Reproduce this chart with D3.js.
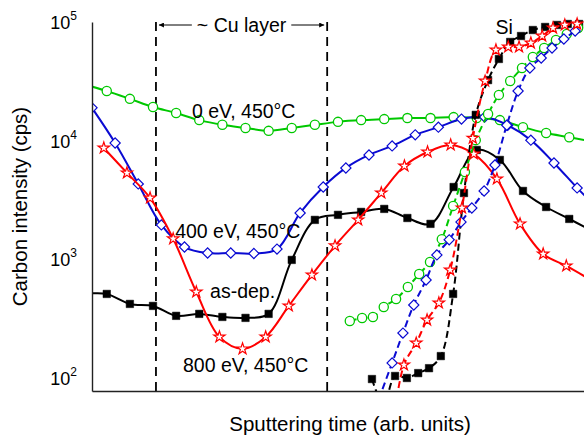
<!DOCTYPE html>
<html>
<head>
<meta charset="utf-8">
<script src="https://cdn.jsdelivr.net/npm/d3@7"></script>
<style>
  body { margin: 0; background: #fff; }
  text { font-family: Arial, "Liberation Sans", sans-serif; fill: #000; }
</style>
</head>
<body>
<svg id="chart" width="584" height="437"></svg>
<script>
// sputtering time in arb. units (0-100 across the visible axis)
// carbon intensity in cps

// solid: carbon profile through the sample
var greenX = [-0.6, 3.0, 7.7, 12.4, 17.1, 21.8, 26.5, 31.2, 35.9, 40.6, 45.3, 50.0, 54.7, 59.4, 64.1, 68.8, 73.5, 78.2, 82.9, 87.6, 92.3, 97.0, 100.6];
var greenC = [29000, 26200, 22500, 19200, 17100, 14900, 13600, 12800, 12100, 12800, 13600, 14400, 14900, 15200, 15500, 15500, 15800, 15500, 14900, 13000, 11600, 10700, 10000];

var blackX = [-0.6, 3.0, 7.7, 12.4, 17.1, 21.8, 26.5, 31.2, 35.9, 40.6, 45.3, 50.0, 54.7, 59.4, 64.1, 68.8, 73.5, 78.2, 82.9, 87.6, 92.3, 97.0, 100.6];
var blackC = [515, 511, 421, 405, 334, 347, 327, 321, 347, 989, 2150, 2370, 2510, 2660, 2230, 1990, 4070, 8350, 6880, 3770, 2760, 2190, 1830];

var blueX = [0, 4.7, 9.4, 14.1, 18.8, 23.5, 28.2, 32.9, 37.6, 42.3, 47.0, 51.6, 56.3, 61.0, 65.7, 70.4, 75.1, 79.8, 84.5, 89.2, 93.9, 98.6, 100.6];
var blueC = [18900, 9560, 4320, 1950, 1270, 1130, 1130, 1120, 1220, 2460, 4070, 5890, 7580, 9030, 11200, 13000, 15200, 15800, 13500, 10100, 6490, 4000, 3300];

var redX = [2.4, 7.1, 11.8, 16.5, 21.2, 25.9, 30.6, 35.3, 40.0, 44.7, 49.4, 54.1, 58.8, 63.5, 68.2, 72.9, 77.6, 82.3, 87.0, 91.7, 96.4, 100.6];
var redC = [8680, 5350, 3290, 1490, 531, 222, 176, 222, 405, 739, 1300, 2150, 3630, 6120, 8030, 9200, 7730, 4760, 1990, 1110, 880, 700];

// dashed: rise into the Si substrate
var greenSiX = [52.4, 54.9, 57.1, 59.3, 61.8, 64.2, 66.5, 68.7, 71.1, 73.4, 75.8, 78.0, 80.5, 82.7, 85.0, 87.4, 89.6, 91.9, 94.3, 96.5, 98.8];
var greenSiC = [302, 320, 327, 397, 463, 585, 752, 950, 1480, 2820, 5450, 10100, 16800, 24300, 31800, 41000, 50700, 60400, 70500, 79200, 89000];

var blueSiX = [57.5, 61.0, 63.2, 65.4, 67.9, 70.1, 72.6, 75.0, 77.2, 79.7, 81.9, 84.3, 86.6, 89.0, 91.3, 93.5, 95.9, 98.2];
var blueSiC = [54, 134, 239, 412, 670, 1090, 1460, 2060, 2710, 3770, 6240, 13500, 26200, 41000, 49700, 60400, 71900, 84000];

var redSiX = [61.6, 63.4, 65.9, 68.1, 70.5, 72.8, 75.2, 77.4, 79.9, 82.1, 84.6, 86.8, 89.2, 91.5, 93.7, 96.1, 98.6];
var redSiC = [54, 129, 197, 308, 429, 813, 2710, 10500, 31800, 58100, 61600, 61600, 66500, 76200, 89000, 94400, 96200];

var blackSiX = [56.9, 59.3, 61.6, 64.0, 66.3, 68.5, 70.9, 73.4, 75.6, 78.0, 80.5, 82.7, 85.0, 87.2, 89.6, 92.1, 94.5, 96.7, 99.0];
var blackSiC = [98, 60, 104, 100, 110, 121, 153, 511, 3620, 16500, 32400, 48800, 67900, 76200, 85600, 90800, 94400, 96200, 96200];

// Cu layer boundaries and tick values
var cuLayer = [13.0, 47.8];
var yTicks = [1e2, 1e3, 1e4, 1e5];

var labels = [
  { text: "0 eV, 450°C", x: 20.3, c: 15500 },
  { text: "400 eV, 450°C", x: 16.9, c: 1500 },
  { text: "as-dep.", x: 24.0, c: 470 },
  { text: "800 eV, 450°C", x: 18.5, c: 112 },
  { text: "Si", x: 82.0, c: 80000 }
];

var margin = { left: 92, top: 22, right: 0, bottom: 46 },
  W = 584, H = 437;

var svg = d3.select("#chart");

var x = d3.scaleLinear().domain([0, 100]).range([margin.left, W]);
// 10^2 sits 13px above the bottom axis line
var y = d3.scaleLog().domain([Math.pow(10, 2 - 13 / 118.67), 1e5]).range([H - margin.bottom, margin.top]);

svg.append("defs").append("clipPath")
  .attr("id", "clip")
  .append("rect")
  .attr("x", margin.left)
  .attr("y", 0)
  .attr("width", W - margin.left)
  .attr("height", H - margin.bottom);

var series = [
  { x: blackX, c: blackC, color: "#000", shape: "square", dash: null },
  { x: greenX, c: greenC, color: "#00c800", shape: "circle", dash: null },
  { x: blueX, c: blueC, color: "#0a0ad2", shape: "diamond", dash: null },
  { x: redX, c: redC, color: "#ff0000", shape: "star", dash: null },
  { x: blackSiX, c: blackSiC, color: "#000", shape: "square", dash: "7,4" },
  { x: greenSiX, c: greenSiC, color: "#00c800", shape: "circle", dash: "7,4" },
  { x: blueSiX, c: blueSiC, color: "#0a0ad2", shape: "diamond", dash: "7,4" },
  { x: redSiX, c: redSiC, color: "#ff0000", shape: "star", dash: "7,4" }
];

var line = d3.line()
  .curve(d3.curveCatmullRom.alpha(0.5))
  .x(function(d) { return x(d[0]); })
  .y(function(d) { return y(d[1]); });

var plot = svg.append("g").attr("clip-path", "url(#clip)");

// Cu layer boundaries
plot.selectAll(".cu")
  .data(cuLayer)
  .enter().append("line")
  .attr("x1", function(d) { return x(d); })
  .attr("x2", function(d) { return x(d); })
  .attr("y1", margin.top)
  .attr("y2", H - margin.bottom)
  .attr("stroke", "#000")
  .attr("stroke-width", 1.8)
  .attr("stroke-dasharray", "9,6");

series.forEach(function(s) {
  var pts = s.x.map(function(v, i) { return [v, s.c[i]]; });
  var g = plot.append("g");

  g.append("path")
    .datum(pts)
    .attr("fill", "none")
    .attr("stroke", s.color)
    .attr("stroke-width", 2)
    .attr("stroke-dasharray", s.dash)
    .attr("d", line);

  var marks = pts.filter(function(d) { return d[0] >= 0 && d[0] <= 100; });

  if (s.shape === "circle") {
    g.selectAll("circle").data(marks).enter().append("circle")
      .attr("cx", function(d) { return x(d[0]); })
      .attr("cy", function(d) { return y(d[1]); })
      .attr("r", 4.6)
      .attr("fill", "#fff")
      .attr("stroke", s.color)
      .attr("stroke-width", 1.3);
  } else {
    var sym = d3.symbol()
      .type(s.shape === "star" ? d3.symbolStar : d3.symbolSquare)
      .size(s.shape === "square" ? 56 : s.shape === "diamond" ? 52 : 40);
    g.selectAll(".m").data(marks).enter().append("path")
      .attr("d", sym)
      .attr("transform", function(d) {
        return "translate(" + x(d[0]) + "," + y(d[1]) + ")" + (s.shape === "diamond" ? " rotate(45)" : "");
      })
      .attr("fill", s.shape === "square" ? s.color : "#fff")
      .attr("stroke", s.color)
      .attr("stroke-width", s.shape === "square" ? 0.5 : 1.2);
  }
});

// axes
var yAxis = d3.axisLeft(y).tickValues(yTicks).tickSize(0).tickFormat("");
var xAxis = d3.axisBottom(x).tickValues([]).tickSize(0);

svg.append("g")
  .attr("transform", "translate(" + margin.left + ",0)")
  .call(yAxis)
  .call(function(g) { g.select(".domain").attr("stroke", "#222").attr("stroke-width", 1.4); });

svg.append("g")
  .attr("transform", "translate(0," + (H - margin.bottom) + ")")
  .call(xAxis)
  .call(function(g) { g.select(".domain").attr("stroke", "#222").attr("stroke-width", 1.4); });

// log tick labels 10^n
var tl = svg.selectAll(".tl")
  .data(yTicks)
  .enter().append("text")
  .attr("class", "tl")
  .attr("x", margin.left - 15)
  .attr("y", function(d) { return y(d) + 7; })
  .attr("text-anchor", "end")
  .style("font-size", "18px");
tl.append("tspan").text("10");
tl.append("tspan")
  .attr("dy", -9)
  .style("font-size", "12px")
  .text(function(d) { return Math.round(Math.log10(d)); });

// axis titles
svg.append("text")
  .attr("transform", "translate(27," + (y(1e5) + y.range()[0]) / 2 + ") rotate(-90)")
  .attr("text-anchor", "middle")
  .style("font-size", "20.5px")
  .text("Carbon intensity (cps)");

svg.append("text")
  .attr("x", 350)
  .attr("y", 431)
  .attr("text-anchor", "middle")
  .style("font-size", "20.5px")
  .text("Sputtering time (arb. units)");

// series labels
svg.selectAll(".lab")
  .data(labels)
  .enter().append("text")
  .attr("class", "lab")
  .attr("x", function(d) { return x(d.x); })
  .attr("y", function(d) { return y(d.c); })
  .style("font-size", "19.5px")
  .text(function(d) { return d.text; });

// ~ Cu layer arrow annotation
var cuMid = (x(cuLayer[0]) + x(cuLayer[1])) / 2, arrowY = 25;
var cuText = svg.append("text")
  .attr("x", cuMid)
  .attr("y", arrowY + 7)
  .attr("text-anchor", "middle")
  .style("font-size", "19.5px")
  .text("~ Cu layer");
var tw = cuText.node().getComputedTextLength();

svg.select("defs").append("marker")
  .attr("id", "arr")
  .attr("viewBox", "0 0 10 10")
  .attr("refX", 10)
  .attr("refY", 5)
  .attr("markerWidth", 7)
  .attr("markerHeight", 5)
  .attr("markerUnits", "userSpaceOnUse")
  .attr("orient", "auto")
  .append("path")
  .attr("d", "M0,0L10,5L0,10z")
  .attr("fill", "#000");

[[cuMid - tw / 2 - 5, x(cuLayer[0]) + 3], [cuMid + tw / 2 + 5, x(cuLayer[1]) - 3]].forEach(function(a) {
  svg.append("line")
    .attr("x1", a[0]).attr("x2", a[1])
    .attr("y1", arrowY).attr("y2", arrowY)
    .attr("stroke", "#000")
    .attr("stroke-width", 1)
    .attr("marker-end", "url(#arr)");
});
</script>
</body>
</html>
